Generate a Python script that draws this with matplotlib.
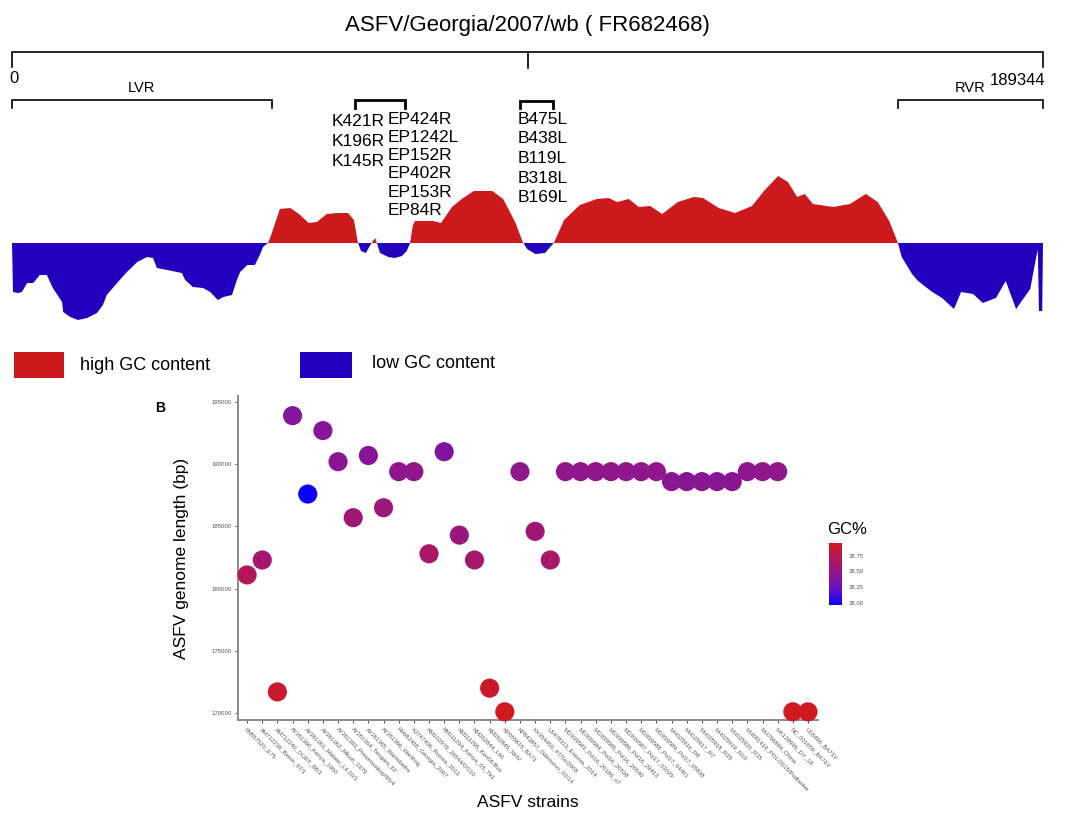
import matplotlib
matplotlib.use('Agg')
import matplotlib.pyplot as plt
import numpy as np
from matplotlib.colors import LinearSegmentedColormap, Normalize
from matplotlib.patches import Rectangle

plt.rcParams['font.family'] = ['Liberation Sans', 'DejaVu Sans']

# ---------------------------------------------------------------
# data
# ---------------------------------------------------------------
GENOME_LEN = 189344
title = 'ASFV/Georgia/2007/wb ( FR682468)'

# GC deviation profile along the Georgia genome (position in kb, relative units)
gc_pos_kb = [0, 0.18, 1.1, 1.8, 2.8, 3.9, 5.1, 6.4, 7.5, 9.2, 9.4, 10.7, 12.1, 13.8,
             15.6, 16.7, 17.4, 19.3, 21.1, 23.0, 24.8, 25.9, 26.6, 28.5, 31.2, 31.8,
             33.2, 35.1, 36.4, 37.8, 38.8, 40.4, 41.3, 41.9, 43.2, 44.6, 45.5, 46.1,
             47.0, 47.4, 49.2, 51.1, 52.7, 54.5, 56.0, 57.8, 59.7, 61.7, 62.8, 63.5,
             64.1, 65.0, 65.7, 66.3, 66.7, 67.0, 67.6, 69.1, 70.3, 71.6, 72.5, 73.1,
             73.6, 74.0, 77.3, 78.8, 80.8, 82.6, 84.8, 88.2, 90.2, 92.4, 93.8, 94.6,
             96.1, 97.9, 99.0, 99.5, 101.4, 104.3, 107.4, 109.6, 111.1, 113.3, 115.1,
             117.2, 119.4, 122.3, 125.2, 126.9, 129.8, 132.8, 135.9, 138.1, 140.7,
             142.5, 144.2, 145.6, 147.1, 150.8, 153.9, 156.8, 159.0, 161.2, 162.7,
             163.4, 165.3, 166.4, 169.0, 170.8, 173.0, 174.3, 176.5, 178.3, 180.7,
             182.5, 184.4, 187.0, 188.1, 188.4, 188.6, 189.2, 189.34]
gc_dev = [0, -49, -50, -49, -40, -40, -32, -32, -45, -59, -69, -74, -77, -75,
          -70, -62, -52, -40, -29, -19, -14, -15, -25, -27, -30, -37,
          -44, -45, -49, -57, -54, -52, -37, -29, -22, -22, -12, -4,
          0, 5, 34, 35, 29, 20, 21, 29, 30, 30, 23, 1,
          -8, -10, -3, 2, 5, 0, -10, -14, -15, -13, -8, 0,
          17, 22, 22, 20, 36, 44, 52, 52, 44, 21, 1, -6,
          -11, -10, -3, 0, 23, 38, 44, 45, 41, 44, 36,
          37, 29, 41, 46, 45, 35, 30, 37, 52, 67,
          61, 46, 49, 39, 36, 39, 49, 41, 21, 0,
          -14, -31, -38, -49, -55, -66, -49, -51, -60, -55,
          -38, -66, -46, -14, -7, -68, -68, 0]

# annotated regions (bp)
lvr = (0, 47700)
rvr = (162700, GENOME_LEN)
k_region = (63000, 72200)
b_region = (93300, 99400)
k_genes = ['K421R', 'K196R', 'K145R']
ep_genes = ['EP424R', 'EP1242L', 'EP152R', 'EP402R', 'EP153R', 'EP84R']
b_genes = ['B475L', 'B438L', 'B119L', 'B318L', 'B169L']

# panel B
strains = ['FN557520_E75', 'AM712239_Benin_97/1', 'AM712240_OURT_88/3',
           'AY261360_Kenya_1950', 'AY261361_Malawi_Lil-20/1', 'AY261362_Mkuzi_1979',
           'AY261363_Pretorisuskop/96/4', 'AY261364_Tengani_62', 'AY261365_Warmbaths',
           'AY261366_Warthog', 'FR682468_Georgia_2007', 'KJ747406_Russia_2013',
           'KM102979_26544/OG10', 'KM111294_Kenya_05_Tk1', 'KM111295_Ken06.Bus',
           'KM262844_L60', 'KM262845_NHV', 'KP055815_BA71', 'KP843857_Odintsovo_02/14',
           'KX354450_47/Ss/2008', 'LS478113_Estonia_2014', 'MG939583_Pol16_20186_o7',
           'MG939584_Pol16_20538', 'MG939585_Pol16_20540', 'MG939586_Pol16_29413',
           'MG939587_Pol17_03029', 'MG939588_Pol17_04461', 'MG939589_Pol17_05838',
           'MH025916_R8', 'MH025917_R7', 'MH025918_R25', 'MH025919_N10', 'MH025920_R35',
           'MH681419_POL/2015/Podlaskie', 'MH766894_China', 'MK128995_DY_18',
           'NC_001659_BA71V', 'U18466_BA71V']
genome_len = [181100, 182300, 171700, 193900, 187600, 192700, 190200, 185700, 190700,
              186500, 189400, 189400, 182800, 191000, 184300, 182300, 172000, 170100,
              189400, 184600, 182300, 189400, 189400, 189400, 189400, 189400, 189400,
              189400, 188600, 188600, 188600, 188600, 188600, 189400, 189400, 189400,
              170100, 170100]
gc_pct = [38.72, 38.62, 38.88, 38.40, 37.97, 38.42, 38.43, 38.58, 38.42, 38.56, 38.47,
          38.47, 38.65, 38.38, 38.55, 38.62, 38.90, 38.94, 38.47, 38.58, 38.65, 38.47,
          38.47, 38.47, 38.47, 38.47, 38.47, 38.47, 38.44, 38.44, 38.44, 38.44, 38.44,
          38.47, 38.47, 38.47, 38.94, 38.94]

RED = '#cc1a1c'
BLUE = '#2200bd'

# ---------------------------------------------------------------
# figure
# ---------------------------------------------------------------
W, H = 1077, 817
fig = plt.figure(figsize=(W / 100, H / 100), dpi=100)


def px_axes(x0, y0, x1, y1):
    return fig.add_axes([x0 / W, 1 - y1 / H, (x1 - x0) / W, (y1 - y0) / H])


def gx(pos):
    return 12 + pos / GENOME_LEN * 1031


overlay = px_axes(0, 0, W, H)
overlay.set_xlim(0, W)
overlay.set_ylim(H, 0)
overlay.axis('off')


def bracket(x0, x1, y, drop, lw=1.2):
    overlay.plot([x0, x0, x1, x1], [y + drop, y, y, y + drop], color='black', lw=lw,
                 solid_joinstyle='miter')


def gene_column(names, x, y0, step):
    for i, name in enumerate(names):
        overlay.text(x, y0 + i * step, name, ha='left', va='center', fontsize=12.5)


# genome bar
overlay.text(gx(GENOME_LEN / 2), 25, title, ha='center', va='center', fontsize=16)
bracket(gx(0), gx(GENOME_LEN), 52, 15)
overlay.plot([gx(GENOME_LEN / 2)] * 2, [52, 68], color='black', lw=1.2)
overlay.text(gx(0) + 2, 78, '0', ha='center', va='center', fontsize=12)
overlay.text(gx(GENOME_LEN) + 2, 80, str(GENOME_LEN), ha='right', va='center', fontsize=12)

bracket(gx(lvr[0]), gx(lvr[1]), 100, 8)
overlay.text((gx(lvr[0]) + gx(lvr[1])) / 2, 88, 'LVR', ha='center', va='center', fontsize=10.5)
bracket(gx(rvr[0]), gx(rvr[1]), 100, 8)
overlay.text((gx(rvr[0]) + gx(rvr[1])) / 2, 88, 'RVR', ha='center', va='center', fontsize=10.5)

bracket(gx(k_region[0]), gx(k_region[1]), 100, 8, lw=2)
bracket(gx(b_region[0]), gx(b_region[1]), 101, 7, lw=2)
gene_column(k_genes, 332, 121, 20)
gene_column(ep_genes, 388, 119, 18.3)
gene_column(b_genes, 518, 119, 19.7)

# GC profile
ax_gc = px_axes(12, 150, 1043, 340)
pos = np.array(gc_pos_kb) * 1000
dev = np.array(gc_dev, dtype=float)
ax_gc.fill_between(pos, dev, 0, where=dev >= 0, interpolate=True, color=RED, lw=0)
ax_gc.fill_between(pos, dev, 0, where=dev <= 0, interpolate=True, color=BLUE, lw=0)
ax_gc.set_xlim(0, GENOME_LEN)
ax_gc.set_ylim(-97, 93)
ax_gc.axis('off')

# legend
overlay.add_patch(Rectangle((14, 352), 50, 26, color=RED, lw=0))
overlay.text(80, 365, 'high GC content', ha='left', va='center', fontsize=13)
overlay.add_patch(Rectangle((300, 352), 52, 26, color=BLUE, lw=0))
overlay.text(372, 363, 'low GC content', ha='left', va='center', fontsize=13)

# ---------------------------------------------------------------
# panel B
# ---------------------------------------------------------------
overlay.text(160, 408, 'B', ha='center', va='center', fontsize=10, fontweight='bold')

cmap = LinearSegmentedColormap.from_list(
    'gc', ['#0a00ff', '#6410c8', '#8e168e', '#b2175c', '#d11a1e'])
norm = Normalize(vmin=37.97, vmax=38.95)

ax = px_axes(238, 396, 818, 720)
x = np.arange(len(strains))
sc = ax.scatter(x, genome_len, c=gc_pct, cmap=cmap, norm=norm, s=190,
                edgecolors='none', clip_on=False, zorder=3)
ax.set_xlim(-0.6, 37.66)
ax.set_ylim(169440, 195480)
ax.set_yticks(np.arange(170000, 195001, 5000))
ax.set_yticklabels([str(v) for v in range(170000, 195001, 5000)])
ax.set_xticks(x)
ax.set_xticklabels(strains, rotation=-45, ha='left', va='top', rotation_mode='anchor')
for s in ['top', 'right']:
    ax.spines[s].set_visible(False)
for s in ['left', 'bottom']:
    ax.spines[s].set_color('#8a8a8a')
    ax.spines[s].set_linewidth(1.4)
ax.tick_params(length=2.5, width=0.6, color='#333333', labelsize=4.3,
               labelcolor='#555555', pad=2)
ax.set_ylabel('ASFV genome length (bp)', fontsize=12.5, labelpad=16)
ax.set_xlabel('ASFV strains', fontsize=12.5, labelpad=2)

cax = px_axes(829, 543, 842, 605)
cb = fig.colorbar(sc, cax=cax)
cb.outline.set_visible(False)
cb.set_ticks([38.0, 38.25, 38.5, 38.75])
cb.ax.set_yticklabels(['38.00', '38.25', '38.50', '38.75'])
cb.ax.tick_params(length=2, width=0.8, color='white', labelsize=4.3,
                  labelcolor='#555555', pad=3)
overlay.text(847, 529, 'GC%', ha='center', va='center', fontsize=12)

fig.savefig('out.png', dpi=100)
